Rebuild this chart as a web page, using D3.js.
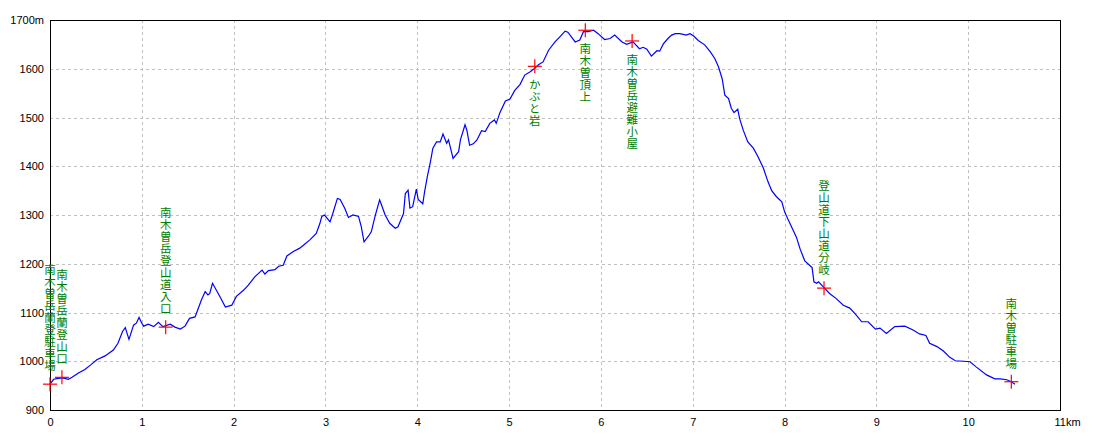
<!DOCTYPE html>
<html><head><meta charset="utf-8">
<script src="https://cdn.jsdelivr.net/npm/d3@7"></script>
<style>
html,body{margin:0;padding:0;background:#fff;}
svg{display:block;}
.tick text{font-family:"Liberation Sans",Arial,sans-serif;font-size:11px;fill:#000;}
.wpl{writing-mode:vertical-rl;text-orientation:upright;}
</style></head>
<body>
<svg id="c" width="1100" height="440"></svg>
<script>
// Distance (km) along the trail
const distKm = [0.00,0.04,0.09,0.14,0.20,0.24,0.31,0.38,0.44,0.51,0.60,0.69,0.74,0.79,0.82,0.86,0.91,0.94,0.97,1.00,
1.02,1.07,1.13,1.18,1.23,1.31,1.36,1.42,1.47,1.52,1.58,1.65,1.69,1.72,1.74,1.77,1.85,1.91,1.98,2.03,
2.11,2.16,2.23,2.31,2.34,2.38,2.45,2.49,2.54,2.58,2.65,2.72,2.76,2.83,2.90,2.94,2.96,2.99,3.05,3.08,
3.13,3.16,3.21,3.25,3.30,3.36,3.39,3.42,3.47,3.50,3.54,3.59,3.61,3.65,3.70,3.76,3.79,3.85,3.87,3.90,
3.92,3.95,3.99,4.01,4.06,4.08,4.11,4.14,4.17,4.21,4.25,4.28,4.32,4.34,4.39,4.45,4.47,4.52,4.54,4.57,
4.61,4.65,4.70,4.74,4.79,4.84,4.86,4.90,4.96,5.01,5.06,5.12,5.17,5.23,5.28,5.32,5.37,5.43,5.50,5.55,
5.61,5.64,5.72,5.77,5.81,5.86,5.92,5.97,6.04,6.10,6.15,6.23,6.28,6.35,6.42,6.46,6.50,6.55,6.61,6.64,
6.68,6.73,6.77,6.81,6.86,6.93,6.97,7.01,7.06,7.13,7.19,7.24,7.28,7.32,7.35,7.39,7.42,7.45,7.49,7.51,
7.55,7.60,7.66,7.71,7.77,7.82,7.86,7.91,7.97,8.00,8.04,8.10,8.13,8.17,8.22,8.26,8.30,8.32,8.35,8.37,
8.42,8.49,8.56,8.64,8.71,8.77,8.84,8.91,8.99,9.04,9.11,9.20,9.31,9.40,9.47,9.54,9.58,9.66,9.73,9.80,
9.86,9.95,10.02,10.09,10.20,10.29,10.35,10.42,10.47,10.51];
// Elevation (m)
const elevM = [953,963,965,966,963,967,976,983,992,1003,1011,1023,1037,1061,1069,1045,1074,1078,1090,1078,
1072,1076,1071,1080,1071,1076,1070,1066,1072,1088,1091,1126,1143,1136,1139,1160,1133,1111,1115,1133,
1146,1156,1173,1187,1179,1186,1188,1195,1197,1216,1225,1232,1238,1249,1262,1283,1297,1300,1286,1303,
1334,1332,1314,1295,1300,1297,1276,1245,1257,1266,1297,1331,1321,1300,1283,1273,1276,1303,1344,1351,
1314,1317,1353,1332,1323,1348,1379,1406,1437,1450,1450,1466,1447,1454,1416,1430,1454,1485,1474,1443,
1446,1454,1473,1471,1488,1495,1488,1510,1534,1538,1555,1568,1587,1594,1601,1608,1614,1638,1655,1665,
1677,1675,1655,1659,1676,1676,1679,1672,1660,1662,1669,1655,1650,1655,1641,1644,1640,1626,1637,1636,
1651,1662,1669,1672,1672,1669,1672,1667,1658,1649,1635,1621,1604,1580,1546,1539,1519,1510,1517,1498,
1474,1450,1437,1420,1396,1368,1350,1338,1327,1307,1290,1266,1254,1230,1206,1199,1192,1163,1160,1163,
1153,1139,1129,1115,1109,1097,1081,1081,1066,1068,1057,1071,1072,1064,1056,1053,1037,1030,1021,1008,
1001,1000,999,988,972,964,964,962,958,953];
// Waypoints
const wpNames = ["南木曽岳蘭登駐車場","南木曽岳蘭登山口","南木曽岳登山道入口","かぶと岩","南木曽頂上","南木曽岳避難小屋","登山道下山道分岐","南木曽駐車場"];
const wpKm = [0.00,0.13,1.26,5.28,5.83,6.34,8.43,10.47];
const wpElev = [953,967,1070,1605,1679,1657,1150,958];
// Axis ticks
const xTicks = [0,1,2,3,4,5,6,7,8,9,10,11];
const yTicks = [900,1000,1100,1200,1300,1400,1500,1600,1700];

const svg = d3.select("#c");
const L=50, R=1060, T=20, B=410;
const x = d3.scaleLinear().domain([0,11]).range([L,R]);
const y = d3.scaleLinear().domain([900,1700]).range([B,T]);

// grid
const g = svg.append("g").attr("shape-rendering","crispEdges");
g.selectAll(".vg").data(xTicks.slice(1,-1)).enter().append("line")
 .attr("x1",d=>Math.round(x(d))+0.5).attr("x2",d=>Math.round(x(d))+0.5).attr("y1",T).attr("y2",B)
 .attr("stroke","#c0c0c0").attr("stroke-dasharray","3,3");
g.selectAll(".hg").data(yTicks.slice(1,-1)).enter().append("line")
 .attr("y1",d=>Math.round(y(d))+0.5).attr("y2",d=>Math.round(y(d))+0.5).attr("x1",L).attr("x2",R)
 .attr("stroke","#c0c0c0").attr("stroke-dasharray","3,3");

// frame
svg.append("rect").attr("x",L+0.5).attr("y",T+0.5).attr("width",R-L).attr("height",B-T)
 .attr("fill","none").attr("stroke","#000").attr("stroke-width",1).attr("shape-rendering","crispEdges");

// axes
const xAxis = d3.axisBottom(x).tickValues(xTicks).tickSize(0).tickPadding(8)
 .tickFormat(d=>d===11?"11km":String(d));
const xa = svg.append("g").attr("transform",`translate(0,${B})`).call(xAxis);
xa.select(".domain").remove();
xa.selectAll(".tick text").attr("text-anchor",d=>d===11?"start":"middle").attr("dx",d=>d===11?-6:0);
const yAxis = d3.axisLeft(y).tickValues(yTicks).tickSize(0).tickPadding(6)
 .tickFormat(d=>d===1700?"1700m":String(d));
const ya = svg.append("g").attr("transform",`translate(${L},0)`).call(yAxis);
ya.select(".domain").remove();

// profile line
const pts = distKm.map((d,i)=>[d,elevM[i]]);
svg.append("path").datum(pts)
 .attr("d",d3.line().x(d=>x(d[0])).y(d=>y(d[1])))
 .attr("fill","none").attr("stroke","#0000ff").attr("stroke-width",1.2);

// waypoints
const wp = wpNames.map((n,i)=>({name:n,km:wpKm[i],el:wpElev[i]}));
const wg = svg.append("g");
const step = 12;
wp.forEach(w=>{
  const cx=x(w.km), cy=y(w.el);
  wg.append("line").attr("x1",cx-7).attr("x2",cx+7).attr("y1",cy).attr("y2",cy).attr("stroke","#ff0000").attr("stroke-width",1.2);
  wg.append("line").attr("x1",cx).attr("x2",cx).attr("y1",cy-7).attr("y2",cy+7).attr("stroke","#ff0000").attr("stroke-width",1.2);
  const n = Array.from(w.name).length;
  const below = w.el > 1500;
  const top = below ? cy + 13 : cy - 12 - n*step;
  wg.append("text").attr("class","wpl")
    .attr("font-family","'Noto Sans CJK JP',sans-serif").attr("font-size","11.5px")
    .attr("letter-spacing","0.5px")
    .attr("fill","#008000").attr("text-anchor","start")
    .attr("x",cx).attr("y",top).text(w.name);
});
</script>
</body></html>
